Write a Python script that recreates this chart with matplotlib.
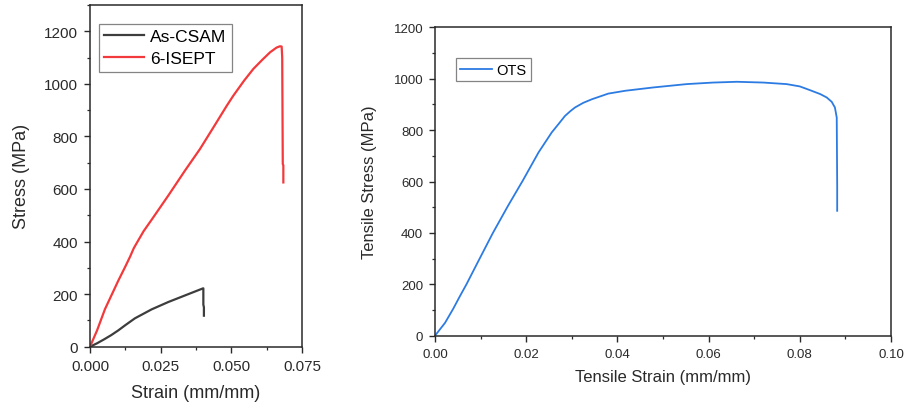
import matplotlib
matplotlib.use("Agg")
import matplotlib.pyplot as plt
from matplotlib.ticker import MultipleLocator

plt.rcParams['font.family'] = ['Liberation Sans', 'DejaVu Sans']

# left panel: As-CSAM vs 6-ISEPT
csam_strain = [0.0, 0.0025, 0.005, 0.0075, 0.010, 0.0125, 0.0159, 0.0218, 0.0277, 0.0336, 0.0400,
               0.0401, 0.0401, 0.0403, 0.0403]
csam_stress = [0, 13, 28, 44, 62, 82, 108, 142, 170, 195, 222,
               222, 160, 150, 118]

isept_strain = [0.0, 0.0025, 0.0053, 0.0100, 0.0125, 0.0142, 0.0155, 0.0171, 0.0190, 0.0218, 0.0277,
                0.0336, 0.0389, 0.0437, 0.0484, 0.0507, 0.0545, 0.0578, 0.0610, 0.0637, 0.0660,
                0.0672, 0.0678, 0.0680, 0.0681, 0.0682, 0.0684, 0.0684]
isept_stress = [0, 62, 143, 251, 305, 343, 375, 405, 440, 483, 575,
                670, 752, 835, 917, 955, 1012, 1057, 1092, 1120, 1138,
                1143, 1142, 1100, 900, 695, 690, 625]

# right panel: OTS
ots_strain = [0.0, 0.0022, 0.0040, 0.0055, 0.0069, 0.0095, 0.0127, 0.0160, 0.0193, 0.0227, 0.0256,
              0.0272, 0.0285, 0.0297, 0.0307, 0.0325, 0.0344, 0.0380, 0.0417, 0.0479, 0.0552,
              0.0610, 0.0662, 0.0720, 0.0771, 0.0800, 0.0823, 0.0845, 0.0859, 0.0870, 0.0877,
              0.0881, 0.0882, 0.0882]
ots_stress = [0, 50, 105, 155, 200, 290, 400, 505, 605, 713, 791,
              826, 855, 874, 888, 906, 920, 942, 953, 966, 979,
              985, 988, 985, 979, 970, 955, 940, 927, 910, 888,
              849, 583, 486]

fig = plt.figure(figsize=(9.14, 4.10), dpi=100)
ax1 = fig.add_axes([90 / 914, 1 - 347.7 / 410, 212 / 914, 341.7 / 410])
ax2 = fig.add_axes([435 / 914, 1 - 336.7 / 410, 456 / 914, 308.4 / 410])

txt = '#2a2a2a'

ax1.plot(csam_strain, csam_stress, color='#3d3d3d', lw=1.6, label='As-CSAM')
ax1.plot(isept_strain, isept_stress, color='#f23a3c', lw=1.6, label='6-ISEPT')
ax1.set_xlim(0, 0.075)
ax1.set_ylim(0, 1300)
ax1.set_xticks([0, 0.025, 0.05, 0.075])
ax1.set_xticklabels(['0.000', '0.025', '0.050', '0.075'])
ax1.xaxis.set_minor_locator(MultipleLocator(0.0125))
ax1.set_yticks([0, 200, 400, 600, 800, 1000, 1200])
ax1.yaxis.set_minor_locator(MultipleLocator(100))
ax1.set_xlabel('Strain (mm/mm)', fontsize=13, color=txt, labelpad=8)
ax1.set_ylabel('Stress (MPa)', fontsize=13, color=txt, labelpad=10)
leg1 = ax1.legend(loc='upper left', fontsize=12.5, fancybox=False, edgecolor='#666666',
                  handlelength=2.3, handletextpad=0.35, borderpad=0.3, labelspacing=0.4,
                  borderaxespad=0, bbox_to_anchor=(9 / 212, 1 - 19 / 341.7))
leg1.get_frame().set_linewidth(0.9)

ax2.plot(ots_strain, ots_stress, color='#2c7be3', lw=1.3, label='OTS')
ax2.set_xlim(0, 0.10)
ax2.set_ylim(0, 1200)
ax2.xaxis.set_major_locator(MultipleLocator(0.02))
ax2.xaxis.set_minor_locator(MultipleLocator(0.01))
ax2.yaxis.set_major_locator(MultipleLocator(200))
ax2.yaxis.set_minor_locator(MultipleLocator(100))
ax2.xaxis.set_major_formatter(plt.FuncFormatter(lambda v, p: '%.2f' % v))
ax2.set_xlabel('Tensile Strain (mm/mm)', fontsize=12, color=txt, labelpad=7)
ax2.set_ylabel('Tensile Stress (MPa)', fontsize=12, color=txt, labelpad=12)
leg2 = ax2.legend(loc='upper left', fontsize=10.5, fancybox=False, edgecolor='#666666',
                  handlelength=2.2, handletextpad=0.3, borderpad=0.3, borderaxespad=0,
                  bbox_to_anchor=(20.7 / 456, 1 - 31 / 308.4))
leg2.get_frame().set_linewidth(0.9)

for ax, fs in ((ax1, 11), (ax2, 9.5)):
    for s in ax.spines.values():
        s.set_linewidth(1.1)
        s.set_color('#2a2a2a')
    ax.tick_params(which='major', direction='out', length=4.5, width=1.0, labelsize=fs,
                   colors='#2a2a2a', top=False, right=False, pad=4)
    ax.tick_params(which='minor', direction='out', length=2.5, width=0.9,
                   colors='#2a2a2a', top=False, right=False)

fig.savefig('out.png', dpi=100)
